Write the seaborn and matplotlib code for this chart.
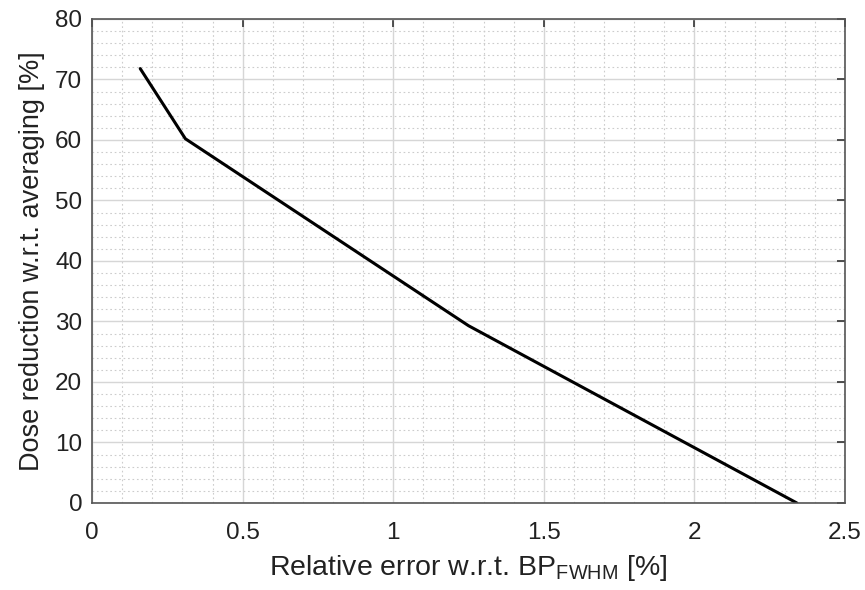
import pandas as pd
import seaborn as sns
import numpy as np
import matplotlib.pyplot as plt
from matplotlib.ticker import MultipleLocator

# data
rel_error = [0.16, 0.31, 1.25, 2.34]
dose_red = [71.8, 60.2, 29.3, 0.0]
xtick_labels = ['0', '0.5', '1', '1.5', '2', '2.5']

df = pd.DataFrame({'err': rel_error, 'dose': dose_red})

sns.set_style("white")
plt.rcParams['font.family'] = ['Liberation Sans', 'DejaVu Sans']
plt.rcParams['mathtext.fontset'] = 'custom'
plt.rcParams['mathtext.rm'] = 'Liberation Sans'
plt.rcParams['mathtext.it'] = 'Liberation Sans'

fig = plt.figure(figsize=(8.65, 5.9), dpi=100)
ax = fig.add_axes([0.1064, 0.1475, 0.8705, 0.8203])

sns.lineplot(data=df, x='err', y='dose', color='black', linewidth=2.2, ax=ax)

ax.set_xlim(0, 2.5)
ax.set_ylim(0, 80)
ax.set_xticks([0, 0.5, 1, 1.5, 2, 2.5])
ax.set_xticklabels(xtick_labels)
ax.xaxis.set_minor_locator(MultipleLocator(0.1))
ax.yaxis.set_major_locator(MultipleLocator(10))
ax.yaxis.set_minor_locator(MultipleLocator(2))

ax.grid(which='major', color='#d6d6d6', linewidth=1.0, linestyle='-')
ax.grid(which='minor', color='#cccccc', linewidth=0.8, linestyle=(0, (1.5, 2.5)))
ax.set_axisbelow(True)

ax.tick_params(which='major', direction='in', length=6, width=1.2, color='#333333',
               top=True, right=True, labelsize=17.5, labelcolor='#222222')
ax.tick_params(axis='y', which='major', pad=7)
ax.tick_params(axis='x', which='major', pad=14)
ax.tick_params(which='minor', length=0)
for s in ax.spines.values():
    s.set_color('#555555')
    s.set_linewidth(1.2)

ax.set_xlabel(r'Relative error w.r.t. BP$_{\mathrm{FWHM}}$ [%]', fontsize=20.5, color='#222222', labelpad=6)
ax.set_ylabel('Dose reduction w.r.t. averaging [%]', fontsize=19.5, color='#222222', labelpad=7)

fig.savefig('out.png', dpi=100, facecolor='white')
